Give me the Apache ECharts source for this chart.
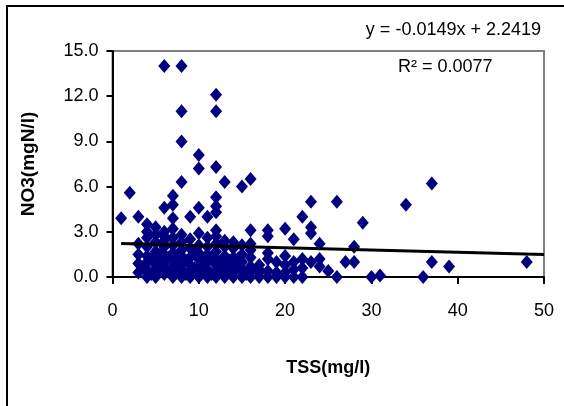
<!DOCTYPE html>
<html><head><meta charset="utf-8">
<script src="https://cdn.jsdelivr.net/npm/echarts@6/dist/echarts.min.js"></script>
<style>html,body{margin:0;padding:0;background:#fff}#c{width:564px;height:406px}</style>
</head><body><div id="c"></div>
<script>
const tss = [
  6,8,12,12,8,8,10,10,12,8,13,15,16,2,7,12,6,7,10,12,9,11,12,1,3,4,5,7,12,16,6,
  23,26,34,37,22,20,23,23,29,18,18,21,24,28,16,18,23,24,27,28,24,25,26,20,22,21,30,31,17,19,37,39,48,36,20,18,16,
  3,3,3,3,
  4,4,4,4,4,4,4,
  5,5,5,5,5,5,5,
  6,6,6,6,6,6,6,
  7,7,7,7,7,7,7,7,
  8,8,8,8,8,8,8,
  9,9,9,9,9,9,
  10,10,10,10,10,10,10,
  11,11,11,11,11,11,
  12,12,12,12,12,12,12,
  13,13,13,13,13,
  14,14,14,14,14,
  15,15,15,15,
  16,16,16,16,
  17,17,19,19,
  3.5,4.5,4.5,5.5,5.5,6.5,6.5,7.5,7.5,8.5,8.5,9.5,9.5,10.5,10.5,11.5,11.5,12.5,12.5,13.5,13.5,14.5,14.5,15.5,
  13,14,15,17,18,18,20,20,21,21,22,22
];
const no3 = [
  14.0,14.0,12.1,11.0,11.0,9.0,8.1,7.2,7.3,6.3,6.3,6.0,6.5,5.6,5.4,5.3,4.6,4.8,4.6,4.7,4.0,4.0,4.3,3.9,4.0,3.5,3.3,3.9,3.1,3.1,2.7,
  5.0,5.0,4.8,6.2,4.0,3.2,3.3,2.9,3.6,3.1,2.7,2.5,2.2,2.0,2.2,1.2,1.0,1.2,1.0,1.0,0.7,0.4,0.0,0.8,0.0,0.0,0.0,0.1,0.3,0.3,1.0,0.7,1.0,0.0,0.0,0.0,0.0,
  0.3,0.9,1.5,2.2,
  0.0,0.5,1.0,1.4,2.0,2.6,3.0,
  0.0,0.4,0.8,1.2,1.7,2.3,2.8,
  0.2,0.6,1.0,1.5,2.0,2.4,3.0,
  0.0,0.3,0.7,1.1,1.6,2.1,2.6,3.2,
  0.0,0.5,0.9,1.4,1.8,2.3,2.8,
  0.0,0.4,0.8,1.3,1.9,2.5,
  0.0,0.3,0.7,1.2,1.6,2.1,2.9,
  0.0,0.5,1.0,1.5,2.0,2.6,
  0.0,0.3,0.8,1.2,1.7,2.2,2.7,
  0.0,0.5,0.9,1.4,2.0,
  0.0,0.4,0.8,1.3,1.9,
  0.0,0.5,1.0,1.5,
  0.3,0.7,1.3,1.8,
  0.0,0.8,0.0,1.0,
  0.6,0.2,1.2,0.6,1.5,0.4,1.3,0.5,1.4,0.2,1.1,0.6,1.6,0.5,1.0,0.2,1.2,0.4,1.0,0.3,1.1,0.6,1.2,0.2,
  2.4,2.3,2.1,0.5,0.4,1.6,0.3,1.4,0.5,1.0,0.6,1.2
];
// Linear trend line y = -0.0149x + 2.2419
const trendSlope = -0.0149;
const trendIntercept = 2.2419;
const trendX = [1, 50];
const xTicks = [0, 10, 20, 30, 40, 50];
const yTicks = [0, 3, 6, 9, 12, 15];

const points = tss.map((x, i) => [x, no3[i]]);
const trend = trendX.map(x => [x, trendSlope * x + trendIntercept]);

const chart = echarts.init(document.getElementById('c'), null, {renderer: 'canvas'});
const font = 'Liberation Sans, Arial, sans-serif';
chart.setOption({
  animation: false,
  backgroundColor: '#fff',
  grid: {left: 112.5, right: 20, top: 51, bottom: 129, show: true, borderColor: '#808080', borderWidth: 2, backgroundColor: 'transparent'},
  xAxis: {
    type: 'value', min: xTicks[0], max: xTicks[xTicks.length - 1], interval: 10,
    name: 'TSS(mg/l)', nameLocation: 'middle', nameGap: 82,
    nameTextStyle: {fontFamily: font, fontWeight: 'bold', fontSize: 18, color: '#000'},
    axisLine: {show: true, onZero: false, lineStyle: {color: '#000', width: 2}},
    axisTick: {show: true, inside: false, length: 7, lineStyle: {color: '#000', width: 2}},
    axisLabel: {fontFamily: font, fontSize: 18, color: '#000', margin: 25},
    splitLine: {show: false}
  },
  yAxis: {
    type: 'value', min: yTicks[0], max: yTicks[yTicks.length - 1], interval: 3,
    name: 'NO3(mgN/l)', nameLocation: 'middle', nameGap: 74, nameRotate: 90,
    nameTextStyle: {fontFamily: font, fontWeight: 'bold', fontSize: 19, color: '#000'},
    axisLine: {show: true, onZero: false, lineStyle: {color: '#000', width: 2}},
    axisTick: {show: true, inside: false, length: 6, lineStyle: {color: '#000', width: 2}},
    axisLabel: {fontFamily: font, fontSize: 18, color: '#000', margin: 14, formatter: v => v.toFixed(1)},
    splitLine: {show: false}
  },
  graphic: [
    {type: 'rect', shape: {x: 7, y: 6, width: 700, height: 600}, style: {fill: 'none', stroke: '#000', lineWidth: 2}, z: 100, silent: true},
    {type: 'text', right: 23, top: 21, style: {text: 'y = -0.0149x + 2.2419', fontFamily: font, fontSize: 18, fill: '#000'}, z: 100},
    {type: 'text', left: 398, top: 58, style: {text: 'R² = 0.0077', fontFamily: font, fontSize: 18, fill: '#000'}, z: 100}
  ],
  series: [
    {type: 'scatter', data: points, symbol: 'diamond', symbolSize: [12, 14],
     itemStyle: {color: '#000080', opacity: 1}, z: 2},
    {type: 'line', data: trend, symbol: 'none', lineStyle: {color: '#000', width: 3}, z: 3}
  ]
});
</script></body></html>
